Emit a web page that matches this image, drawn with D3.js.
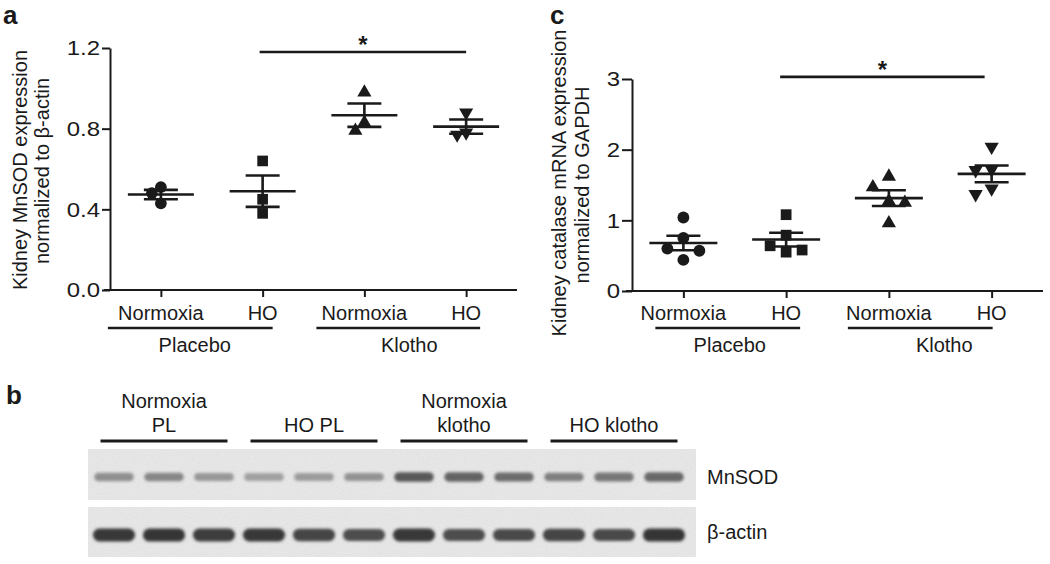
<!DOCTYPE html>
<html><head><meta charset="utf-8">
<script src="https://cdn.jsdelivr.net/npm/d3@7"></script>
<style>
body{margin:0;background:#fff}
svg{display:block}
text{font-family:"Liberation Sans",Arial,Helvetica,sans-serif;fill:#1a1a1a}
</style>
</head><body>
<svg id="fig" width="1050" height="564"></svg>
<script>
// ================= DATA =================
const categoryIds = ["PL-N", "PL-HO", "KL-N", "KL-HO"];
const categoryLabels = ["Normoxia", "HO", "Normoxia", "HO"];
const treatments = ["Placebo", "Klotho"];
const markerShapes = ["circle", "square", "triangle", "triangleDown"];

// Panel a: Kidney MnSOD expression normalized to β-actin
const mnsodNormoxiaPlacebo = [0.51, 0.48, 0.43];
const mnsodHOPlacebo       = [0.64, 0.45, 0.38];
const mnsodNormoxiaKlotho  = [0.98, 0.83, 0.79];
const mnsodHOKlotho        = [0.88, 0.78, 0.77];
const mnsodTicks = [0, 0.4, 0.8, 1.2];
const mnsodSignificance = {from: "PL-HO", to: "KL-HO", level: 1.18, label: "*"};

// Panel c: Kidney catalase mRNA expression normalized to GAPDH
const catalaseNormoxiaPlacebo = [1.04, 0.75, 0.60, 0.57, 0.44];
const catalaseHOPlacebo       = [1.08, 0.79, 0.64, 0.58, 0.55];
const catalaseNormoxiaKlotho  = [1.62, 1.47, 1.27, 1.25, 0.96];
const catalaseHOKlotho        = [2.04, 1.72, 1.71, 1.45, 1.37];
const catalaseTicks = [0, 1, 2, 3];
const catalaseSignificance = {from: "PL-HO", to: "KL-HO", level: 3.03, label: "*"};

// Panel b: western blot (relative band darkness 0..1)
const blotGroupLabels = [["Normoxia", "PL"], ["HO PL"], ["Normoxia", "klotho"], ["HO klotho"]];
const blotRowLabels = ["MnSOD", "β-actin"];
const mnsodBandIntensity = [0.46, 0.50, 0.42, 0.37, 0.39, 0.44, 0.74, 0.68, 0.64, 0.54, 0.58, 0.66];
const actinBandIntensity = [0.90, 0.92, 0.88, 0.90, 0.84, 0.80, 0.90, 0.80, 0.82, 0.84, 0.82, 0.92];

// ================= DRAWING =================
const INK = "#1a1a1a";
const svg = d3.select("#fig");
const defs = svg.append("defs");
defs.append("filter").attr("id", "blur").attr("x", "-30%").attr("y", "-80%").attr("width", "160%").attr("height", "260%")
  .append("feGaussianBlur").attr("stdDeviation", 1.6);
const nf = defs.append("filter").attr("id", "noise");
nf.append("feTurbulence").attr("type", "fractalNoise").attr("baseFrequency", 0.9).attr("numOctaves", 2).attr("seed", 4);
nf.append("feColorMatrix").attr("type", "saturate").attr("values", 0);
nf.append("feComponentTransfer").append("feFuncA").attr("type", "table").attr("tableValues", "0 0.18");
nf.append("feComposite").attr("in2", "SourceGraphic").attr("operator", "in");

function meanSem(v) {
  return {m: d3.mean(v), s: d3.deviation(v) / Math.sqrt(v.length)};
}

// simple beeswarm: spread overlapping points sideways
function swarm(values, y, step, minDist) {
  const pts = values.map(v => ({v, py: y(v)})).sort((a, b) => a.py - b.py);
  const placed = [];
  const ks = [0, -1, 1, -2, 2, -3, 3];
  pts.forEach(p => {
    for (const k of ks) {
      const dx = k * step;
      if (placed.every(q => Math.hypot(q.dx - dx, q.py - p.py) >= minDist)) { p.dx = dx; placed.push(p); break; }
    }
  });
  return pts;
}

function symbolPath(shape, size) {
  if (shape === "circle") return d3.symbol(d3.symbolCircle, size * 1.0)();
  if (shape === "square") return d3.symbol(d3.symbolSquare, size * 1.05)();
  return d3.symbol(d3.symbolTriangle, size * 0.8)();
}

function dotPanel(p) {
  const g = svg.append("g");
  const x = d3.scalePoint().domain(categoryIds).range(p.xRange).padding(0.5);
  const y = d3.scaleLinear().domain(p.yDomain).range(p.yRange);
  const fmt = d3.format(p.fmt);

  // y axis (labels drawn separately, slightly widened like the original typeface)
  const ya = g.append("g").attr("transform", `translate(${p.xRange[0]},0)`)
    .call(d3.axisLeft(y).tickValues(p.ticks).tickFormat("").tickSize(p.yTick).tickSizeOuter(0));
  ya.selectAll("path,line").attr("stroke", INK).attr("stroke-width", 2);
  g.selectAll(null).data(p.ticks).join("text")
    .attr("transform", d => `translate(${p.xRange[0] - p.yTick - 2},${y(d)}) scale(1.2,1)`)
    .attr("dy", "0.36em").attr("text-anchor", "end")
    .style("font-size", "20px").text(d => fmt(d));

  // x axis
  const xa = g.append("g").attr("transform", `translate(0,${p.yRange[0]})`)
    .call(d3.axisBottom(x).tickSize(7).tickSizeOuter(0).tickFormat(""));
  xa.selectAll("path,line").attr("stroke", INK).attr("stroke-width", 2);
  xa.select(".domain").attr("d", `M${p.xRange[0] - 6},0H${p.xRange[1]}`);

  // category labels
  g.selectAll(".cat").data(categoryIds).join("text")
    .attr("x", d => x(d)).attr("y", p.catBaseline)
    .attr("text-anchor", "middle").style("font-size", "20px")
    .text((d, i) => categoryLabels[i]);

  // treatment brackets + labels
  treatments.forEach((t, j) => {
    const c0 = x(categoryIds[2 * j]), c1 = x(categoryIds[2 * j + 1]);
    const pad = p.bracketPad[j];
    g.append("line").attr("x1", c0 + pad[0]).attr("x2", c1 + pad[1])
      .attr("y1", p.bracketY).attr("y2", p.bracketY)
      .attr("stroke", INK).attr("stroke-width", 2.6);
    g.append("text").attr("x", (c0 + c1) / 2 + p.groupLabelDx[j]).attr("y", p.groupBaseline)
      .attr("text-anchor", "middle").style("font-size", "20px").text(t);
  });

  // points, mean, SEM
  p.series.forEach((vals, i) => {
    const cx = x(categoryIds[i]);
    const pts = swarm(vals, y, p.swarmStep, p.swarmDist);
    g.selectAll(null).data(pts).join("path")
      .attr("d", symbolPath(markerShapes[i], p.markerSize))
      .attr("transform", d => `translate(${cx + d.dx},${d.py})` + (markerShapes[i] === "triangleDown" ? " rotate(180)" : ""))
      .attr("fill", INK);
    const ms = meanSem(vals);
    const mg = g.append("g").attr("stroke", INK).attr("stroke-width", 2.6);
    mg.append("line").attr("x1", cx - p.meanHalf).attr("x2", cx + p.meanHalf).attr("y1", y(ms.m)).attr("y2", y(ms.m));
    [ms.m - ms.s, ms.m + ms.s].forEach(v => {
      mg.append("line").attr("x1", cx - p.capHalf).attr("x2", cx + p.capHalf).attr("y1", y(v)).attr("y2", y(v));
    });
    mg.append("line").attr("x1", cx).attr("x2", cx).attr("y1", y(ms.m - ms.s)).attr("y2", y(ms.m + ms.s));
  });

  // significance
  const sg = p.sig;
  g.append("line").attr("x1", x(sg.from) + p.sigPad[0]).attr("x2", x(sg.to) + p.sigPad[1])
    .attr("y1", y(sg.level)).attr("y2", y(sg.level)).attr("stroke", INK).attr("stroke-width", 2.6);
  g.append("text").attr("x", (x(sg.from) + x(sg.to)) / 2 + p.sigPad[0] / 2 + p.sigPad[1] / 2)
    .attr("y", y(sg.level) + 1).attr("text-anchor", "middle")
    .style("font-size", "24px").style("font-weight", "bold").text(sg.label);

  // y title
  p.yTitle.forEach((line, k) => {
    g.append("text").attr("transform", `translate(${p.yTitleX[k]},${p.yTitleY[k]}) rotate(-90)`)
      .attr("text-anchor", "middle").style("font-size", "20px").text(line);
  });

  // panel letter
  g.append("text").attr("x", p.letterPos[0]).attr("y", p.letterPos[1])
    .style("font-size", "26px").style("font-weight", "bold").text(p.letter);
}

dotPanel({
  series: [mnsodNormoxiaPlacebo, mnsodHOPlacebo, mnsodNormoxiaKlotho, mnsodHOKlotho],
  ticks: mnsodTicks, fmt: ".1f", yDomain: [0, 1.2],
  xRange: [110, 517], yRange: [290, 48], yTick: 8,
  catBaseline: 320, bracketY: 328, groupBaseline: 352,
  bracketPad: [[-53, 10], [-48, 14]], groupLabelDx: [-17, -6],
  swarmStep: 9, swarmDist: 9, markerSize: 108,
  meanHalf: 33, capHalf: 17,
  sig: mnsodSignificance, sigPad: [-3, 0],
  yTitle: ["Kidney MnSOD expression", "normalized to β-actin"],
  yTitleX: [27, 49], yTitleY: [170, 171],
  letter: "a", letterPos: [3, 24]
});

dotPanel({
  series: [catalaseNormoxiaPlacebo, catalaseHOPlacebo, catalaseNormoxiaKlotho, catalaseHOKlotho],
  ticks: catalaseTicks, fmt: "d", yDomain: [0, 3],
  xRange: [632, 1043], yRange: [291, 79], yTick: 10,
  catBaseline: 320, bracketY: 328, groupBaseline: 352,
  bracketPad: [[-28, 14], [-41, 1]], groupLabelDx: [-5, 4],
  swarmStep: 16, swarmDist: 16, markerSize: 110,
  meanHalf: 34, capHalf: 17,
  sig: catalaseSignificance, sigPad: [-6, -7],
  yTitle: ["Kidney catalase mRNA expression", "normalized to GAPDH"],
  yTitleX: [566, 589], yTitleY: [183, 185],
  letter: "c", letterPos: [550, 24]
});

// ---------- Panel b: western blot ----------
(function () {
  const g = svg.append("g");
  const lanes = d3.range(mnsodBandIntensity.length);
  const lx = d3.scaleBand().domain(lanes).range([90, 688]).paddingInner(0.14).paddingOuter(0.05);
  const bw = lx.bandwidth();
  const lc = i => lx(i) + bw / 2;
  const shade = d3.scaleLinear().domain([0, 1]).range(["#e8e8e8", "#262626"]);

  const rows = [
    {label: blotRowLabels[0], vals: mnsodBandIntensity, y0: 449, y1: 500, bandY: 477, h: v => 6 + v * 5, wf: 0.92, baseline: 484},
    {label: blotRowLabels[1], vals: actinBandIntensity, y0: 507, y1: 557, bandY: 535, h: v => 4 + v * 10, wf: 0.98, baseline: 539}
  ];
  const bx0 = lx.range()[0] - 2, bx1 = lx.range()[1] + 8;

  rows.forEach(r => {
    g.append("rect").attr("x", bx0).attr("y", r.y0).attr("width", bx1 - bx0).attr("height", r.y1 - r.y0).attr("fill", "#e9e9e9");
    g.append("rect").attr("x", bx0).attr("y", r.y0).attr("width", bx1 - bx0).attr("height", r.y1 - r.y0)
      .attr("fill", "#777").attr("filter", "url(#noise)");
    g.append("g").attr("filter", "url(#blur)").selectAll("rect").data(r.vals).join("rect")
      .attr("x", (d, i) => lc(i) - bw * r.wf / 2).attr("width", bw * r.wf)
      .attr("y", d => r.bandY - r.h(d) / 2).attr("height", d => r.h(d))
      .attr("rx", d => r.h(d) / 2)
      .attr("fill", d => shade(d));
    g.append("text").attr("x", bx1 + 11).attr("y", r.baseline).style("font-size", "20px").text(r.label);
  });

  // group headers
  blotGroupLabels.forEach((lines, k) => {
    const a = lx(3 * k) + 8, b = lx(3 * k + 2) + bw - 8;
    g.append("line").attr("x1", a).attr("x2", b).attr("y1", 441).attr("y2", 441)
      .attr("stroke", INK).attr("stroke-width", 2.8);
    const cx = (a + b) / 2;
    lines.forEach((t, j) => {
      g.append("text").attr("x", cx).attr("y", 432 - (lines.length - 1 - j) * 24)
        .attr("text-anchor", "middle").style("font-size", "20px").text(t);
    });
  });

  g.append("text").attr("x", 6).attr("y", 404).style("font-size", "26px").style("font-weight", "bold").text("b");
})();
</script>
</body></html>
